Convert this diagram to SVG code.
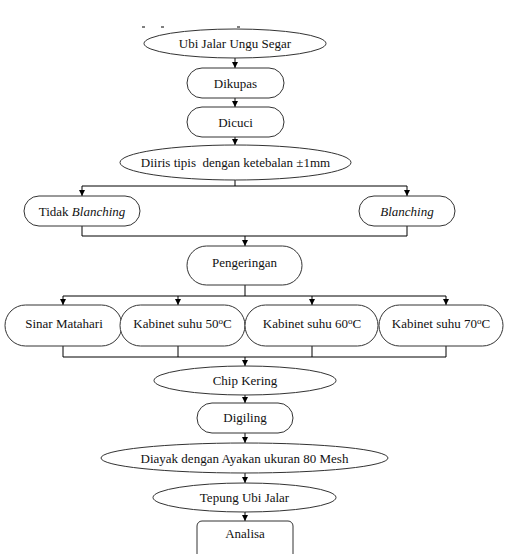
<svg xmlns="http://www.w3.org/2000/svg" width="510" height="554" viewBox="0 0 510 554">
<defs>
<marker id="ah" markerWidth="6" markerHeight="7" refX="6" refY="3" orient="auto" markerUnits="userSpaceOnUse">
<path d="M0,0 L6,3 L0,6 Z" fill="#000"/>
</marker>
<style>
.n{fill:#fff;stroke:#333;stroke-width:1}
.t{font-family:"Liberation Serif","Times New Roman",serif;font-size:13px;fill:#111;text-anchor:middle}
.c{fill:none;stroke:#000;stroke-width:1}
.a{marker-end:url(#ah)}
</style>
</defs>
<rect width="510" height="554" fill="#fff"/>
<g id="marks" stroke="#000" stroke-width="1">
<line x1="142" y1="27" x2="145" y2="27"/>
<line x1="161" y1="27" x2="164" y2="27"/>
<line x1="237" y1="27" x2="240" y2="27"/>
</g>
<g id="connectors">
<line class="c a" x1="235" y1="58" x2="235" y2="68"/>
<line class="c a" x1="235" y1="98" x2="235" y2="107"/>
<line class="c a" x1="235" y1="137" x2="235" y2="145"/>
<polyline class="c" points="235,180 235,186"/>
<line class="c" x1="82" y1="186" x2="407" y2="186"/>
<line class="c a" x1="82" y1="186" x2="82" y2="196"/>
<line class="c a" x1="407" y1="186" x2="407" y2="196"/>
<polyline class="c" points="82,226 82,236 407,236 407,226"/>
<line class="c a" x1="245" y1="236" x2="245" y2="246"/>
<polyline class="c" points="245,285 245,296"/>
<line class="c" x1="63" y1="296" x2="446" y2="296"/>
<line class="c a" x1="63" y1="296" x2="63" y2="305"/>
<line class="c a" x1="178" y1="296" x2="178" y2="305"/>
<line class="c a" x1="312" y1="296" x2="312" y2="305"/>
<line class="c a" x1="446" y1="296" x2="446" y2="305"/>
<polyline class="c" points="63,346 63,357 446,357 446,346"/>
<line class="c" x1="178" y1="346" x2="178" y2="357"/>
<line class="c" x1="312" y1="346" x2="312" y2="357"/>
<line class="c a" x1="245" y1="357" x2="245" y2="366"/>
<line class="c a" x1="245" y1="395" x2="245" y2="403"/>
<line class="c a" x1="245" y1="433" x2="245" y2="443"/>
<line class="c a" x1="245" y1="473" x2="245" y2="483"/>
<line class="c a" x1="245" y1="512" x2="245" y2="521"/>
</g>
<g id="ubi">
<ellipse class="n" cx="235" cy="43.5" rx="91" ry="14.5"/>
<text class="t" x="235" y="48">Ubi Jalar Ungu Segar</text>
</g>
<g id="dikupas">
<rect class="n" x="187" y="68" width="97" height="30" rx="15"/>
<text class="t" x="235.5" y="87.5">Dikupas</text>
</g>
<g id="dicuci">
<rect class="n" x="187" y="107" width="97" height="30" rx="15"/>
<text class="t" x="235.5" y="126.5">Dicuci</text>
</g>
<g id="diiris">
<ellipse class="n" cx="235.5" cy="162.5" rx="115.5" ry="17.5"/>
<text class="t" x="235.5" y="167" xml:space="preserve">Diiris tipis  dengan ketebalan ±1mm</text>
</g>
<g id="tidak">
<rect class="n" x="24" y="196" width="116" height="30" rx="15"/>
<text class="t" x="82" y="215.5">Tidak <tspan font-style="italic">Blanching</tspan></text>
</g>
<g id="blanching">
<rect class="n" x="359" y="196" width="96" height="30" rx="15"/>
<text class="t" x="407" y="215.5" font-style="italic">Blanching</text>
</g>
<g id="pengeringan">
<rect class="n" x="187" y="246" width="115" height="39" rx="19.5"/>
<text class="t" x="244.5" y="267">Pengeringan</text>
</g>
<g id="sinar">
<rect class="n" x="5" y="305" width="117" height="41" rx="20.5"/>
<text class="t" x="64" y="328">Sinar Matahari</text>
</g>
<g id="k50">
<rect class="n" x="120" y="305" width="125" height="41" rx="20.5"/>
<text class="t" x="182.5" y="328">Kabinet suhu 50<tspan font-size="9" dy="-4">o</tspan><tspan dy="4">C</tspan></text>
</g>
<g id="k60">
<rect class="n" x="245" y="305" width="133" height="41" rx="20.5"/>
<text class="t" x="312" y="328">Kabinet suhu 60<tspan font-size="9" dy="-4">o</tspan><tspan dy="4">C</tspan></text>
</g>
<g id="k70">
<rect class="n" x="379" y="305" width="124" height="41" rx="20.5"/>
<text class="t" x="441" y="328">Kabinet suhu 70<tspan font-size="9" dy="-4">o</tspan><tspan dy="4">C</tspan></text>
</g>
<g id="chip">
<ellipse class="n" cx="245" cy="380.5" rx="91" ry="14.5"/>
<text class="t" x="245" y="385">Chip Kering</text>
</g>
<g id="digiling">
<rect class="n" x="197" y="403" width="96" height="30" rx="15"/>
<text class="t" x="245" y="422">Digiling</text>
</g>
<g id="diayak">
<ellipse class="n" cx="244.5" cy="458" rx="143.5" ry="15"/>
<text class="t" x="244.5" y="462.5">Diayak dengan Ayakan ukuran 80 Mesh</text>
</g>
<g id="tepung">
<ellipse class="n" cx="244.5" cy="497.5" rx="91.5" ry="14.5"/>
<text class="t" x="244.5" y="502">Tepung Ubi Jalar</text>
</g>
<g id="analisa">
<rect class="n" x="197" y="521" width="96" height="45" rx="5"/>
<text class="t" x="245" y="538">Analisa</text>
</g>
</svg>
